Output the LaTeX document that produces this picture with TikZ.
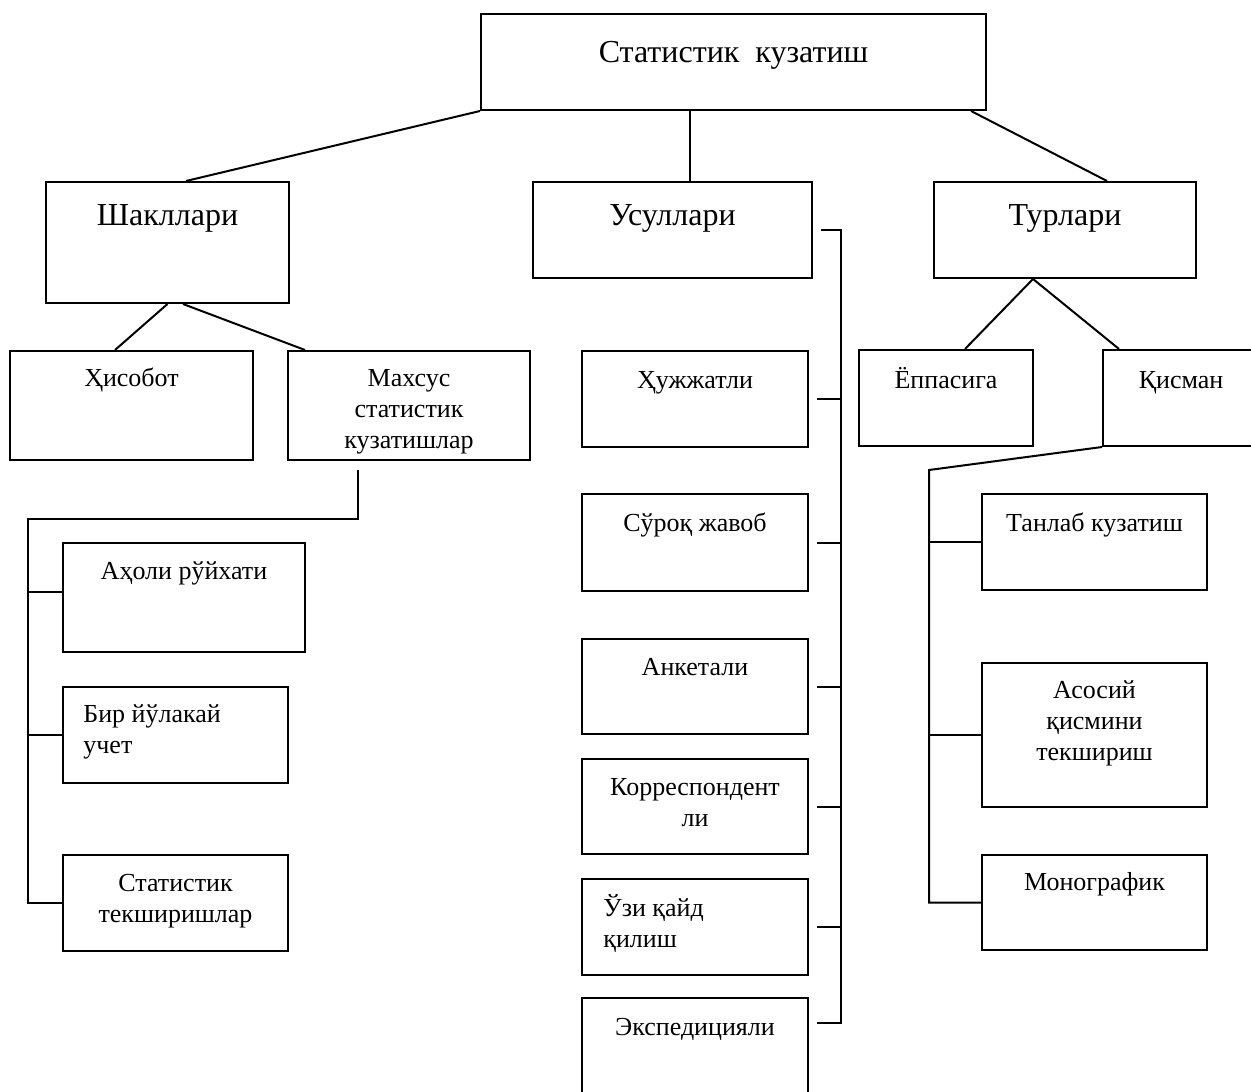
\documentclass[tikz,border=0pt]{standalone}
\usepackage{fontspec}
\setmainfont{Liberation Serif}

\begin{document}
\begin{tikzpicture}[x=0.5pt,y=-0.5pt,
  box/.style={draw,line width=1pt,inner sep=0pt},
  txt/.style={inner sep=0pt,align=center,font=\fontsize{13}{15.5}\selectfont,
    execute at begin node=\strut,execute at end node=\strut},
  big/.style={txt,font=\fontsize{16}{19}\selectfont},
  conn/.style={line width=1pt}]
\useasboundingbox (0,0) rectangle (1251,1091);
% top and second level
\node[box,minimum width=252.5pt,minimum height=48pt] (top) at (733.5,62) {};
\node[big] (top-t) at (733.5,55) {Статистик\ \ кузатиш};
\node[box,minimum width=121.5pt,minimum height=60.5pt] (shakl) at (167.5,242.5) {};
\node[big] (shakl-t) at (167.5,218) {Шакллари};
\node[box,minimum width=139.5pt,minimum height=48pt] (usul) at (672.5,230) {};
\node[big] (usul-t) at (672.5,218) {Усуллари};
\node[box,minimum width=131pt,minimum height=48pt] (turl) at (1065,230) {};
\node[big] (turl-t) at (1065,218) {Турлари};
% left branch
\node[box,minimum width=121.5pt,minimum height=54.5pt] (hisob) at (131.5,405.5) {};
\node[txt] (hisob-t) at (131.5,380) {Ҳисобот};
\node[box,minimum width=121pt,minimum height=54.5pt] (mahsus) at (409,405.5) {};
\node[txt] (mahsus-t) at (409,414) {Махсус\\статистик\\кузатишлар};
\node[box,minimum width=121pt,minimum height=54.5pt] (aholi) at (184,597.5) {};
\node[txt] (aholi-t) at (184,573) {Аҳоли рўйхати};
\node[box,minimum width=112.5pt,minimum height=48pt] (bir) at (175.5,735) {};
\node[txt,align=left,anchor=west] (bir-t) at (83,734) {Бир йўлакай\\учет};
\node[box,minimum width=112.5pt,minimum height=48pt] (statt) at (175.5,903) {};
\node[txt] (statt-t) at (175.5,903) {Статистик\\текширишлар};
% middle branch
\node[box,minimum width=113pt,minimum height=48pt] (hujjat) at (695,399) {};
\node[txt] (hujjat-t) at (695,382) {Ҳужжатли};
\node[box,minimum width=113pt,minimum height=48.5pt] (surok) at (695,542.5) {};
\node[txt] (surok-t) at (695,525) {Сўроқ жавоб};
\node[box,minimum width=113pt,minimum height=47.5pt] (anket) at (695,686.5) {};
\node[txt] (anket-t) at (695,669) {Анкетали};
\node[box,minimum width=113pt,minimum height=47.5pt] (korr) at (695,806.5) {};
\node[txt] (korr-t) at (695,807) {Корреспондент\\ли};
\node[box,minimum width=113pt,minimum height=48pt] (uzi) at (695,927) {};
\node[txt,align=left,anchor=west] (uzi-t) at (603,926) {Ўзи қайд\\қилиш};
\node[box,minimum width=113pt,minimum height=51pt] (eksp) at (695,1049) {};
\node[txt] (eksp-t) at (695,1029) {Экспедицияли};
% right branch
\node[box,minimum width=87pt,minimum height=48pt] (yoppa) at (946,398) {};
\node[txt] (yoppa-t) at (946,382) {Ёппасига};
\node[box,minimum width=78pt,minimum height=48pt] (qisman) at (1181,398) {};
\node[txt] (qisman-t) at (1181,382) {Қисман};
\node[box,minimum width=112.5pt,minimum height=48pt] (tanlab) at (1094.5,542) {};
\node[txt] (tanlab-t) at (1094.5,525) {Танлаб кузатиш};
\node[box,minimum width=112.5pt,minimum height=72pt] (asosiy) at (1094.5,735) {};
\node[txt] (asosiy-t) at (1094.5,725) {Асосий\\қисмини\\текшириш};
\node[box,minimum width=112.5pt,minimum height=47.5pt] (mono) at (1094.5,902.5) {};
\node[txt] (mono-t) at (1094.5,884) {Монографик};
% connectors
\draw[conn] (top.south west) -- ([xshift=9.25pt]shakl.north);
\draw[conn] ([xshift=8.75pt]usul.north |- top.south) -- ([xshift=8.75pt]usul.north);
\draw[conn] ([xshift=-8pt]top.south east) -- ([xshift=21pt]turl.north);
\draw[conn] (shakl.south) -- ([xshift=-8.25pt]hisob.north);
\draw[conn] ([xshift=7.75pt]shakl.south) -- ([xshift=9pt]mahsus.north west);
\draw[conn] ([xshift=-16pt]turl.south) -- ([xshift=9.5pt]yoppa.north);
\draw[conn] ([xshift=-16pt]turl.south) -- ([xshift=8.5pt]qisman.north west);
\coordinate (m1) at (358,470);
\coordinate (m2) at (28,519);
\draw[conn] (m1) |- (m2) |- (statt.west);
\draw[conn] ([yshift=3pt]aholi.west -| m2) -- ([yshift=3pt]aholi.west);
\draw[conn] (m2 |- bir.west) -- (bir.west);
\coordinate (ubus) at (841,1023);
\draw[conn] ([xshift=4pt]usul.east) -| (ubus) -- ([xshift=4pt]eksp.east |- ubus);
\foreach \n in {hujjat,surok,anket,korr,uzi}
  \draw[conn] ([xshift=4pt]\n.east) -- (\n.east -| ubus);
\coordinate (kbus) at (929,470);
\draw[conn] (qisman.south west) -- (kbus) |- (mono.west);
\foreach \n in {tanlab,asosiy}
  \draw[conn] (kbus |- \n.west) -- (\n.west);
\end{tikzpicture}
\end{document}
